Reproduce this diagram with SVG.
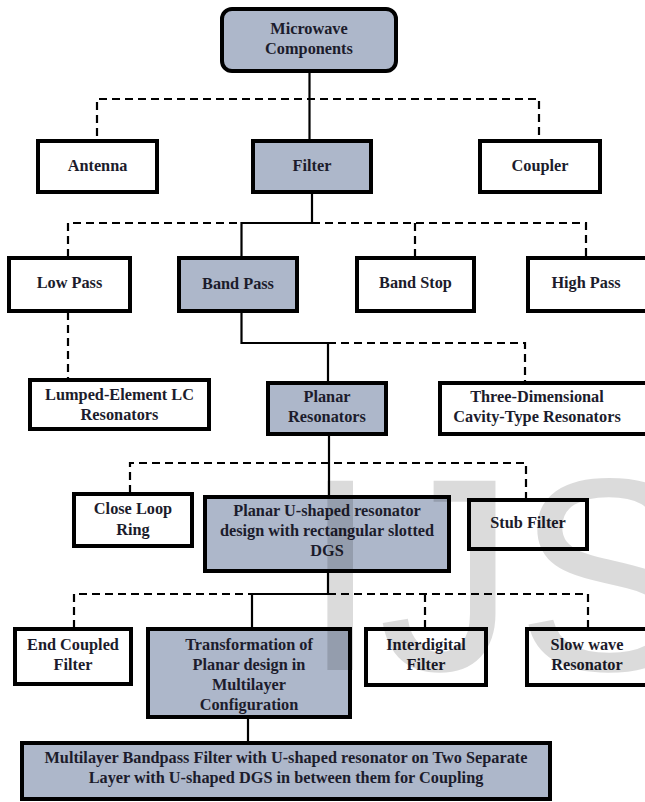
<svg xmlns="http://www.w3.org/2000/svg" width="645" height="802" viewBox="0 0 645 802">
<style>
.b{fill:#ffffff;stroke:#000;stroke-width:4}
.g{fill:#adb7ca;stroke:#000;stroke-width:4}
.s{fill:none;stroke:#000;stroke-width:2.2}
.d{fill:none;stroke:#000;stroke-width:2.2;stroke-dasharray:8 5}
text{font-family:"Liberation Serif","Times New Roman",serif;font-weight:bold;font-size:16.3px;fill:#1c1c2c;text-anchor:middle}
.wm{font-family:"Liberation Sans",Arial,sans-serif;font-weight:normal;font-size:275px;fill:#000;fill-opacity:0.14;text-anchor:start}
</style>
<rect width="645" height="802" fill="#fff"/>
<g id="connectors">
<path class="s" d="M309.5 71V140"/>
<path class="d" d="M97 136V99H539V136"/>
<path class="s" d="M312 193V223H241.5V257"/>
<path class="d" d="M68 257V223H241.5M312 223H586V257M415 223V257"/>
<path class="d" d="M68 312V380"/>
<path class="s" d="M241.5 312V343H328V382"/>
<path class="d" d="M328 343H525V382"/>
<path class="s" d="M329 435V497"/>
<path class="d" d="M130 493V463H526V499"/>
<path class="s" d="M328 572V594H252V628"/>
<path class="d" d="M74 628V594H252M328 594H588V628M425 594V628"/>
<path class="s" d="M248 718V742"/>
</g>
<g id="microwave"><rect class="g" x="222" y="9" width="174" height="62" rx="10"/><text x="309" y="34">Microwave</text><text x="309" y="54">Components</text></g>
<g id="antenna"><rect class="b" x="38" y="141" width="119" height="51"/><text x="97.5" y="171">Antenna</text></g>
<g id="filter"><rect class="g" x="253" y="141" width="118" height="51"/><text x="312" y="171">Filter</text></g>
<g id="coupler"><rect class="b" x="480" y="141" width="120" height="51"/><text x="540" y="171">Coupler</text></g>
<g id="lowpass"><rect class="b" x="9" y="258" width="121" height="53"/><text x="69.5" y="288">Low Pass</text></g>
<g id="bandpass"><rect class="g" x="179" y="258" width="118" height="53"/><text x="238" y="289">Band Pass</text></g>
<g id="bandstop"><rect class="b" x="357" y="258" width="117" height="53"/><text x="415.5" y="288">Band Stop</text></g>
<g id="highpass"><rect class="b" x="528" y="258" width="120" height="53"/><text x="586" y="288">High Pass</text></g>
<g id="lumped"><rect class="b" x="30" y="380" width="179" height="49"/><text x="119.5" y="400">Lumped-Element LC</text><text x="119.5" y="420">Resonators</text></g>
<g id="planar"><rect class="g" x="268" y="383" width="118" height="51"/><text x="327" y="402">Planar</text><text x="327" y="422">Resonators</text></g>
<g id="threed"><rect class="b" x="440" y="383" width="208" height="51"/><text x="537" y="402">Three-Dimensional</text><text x="537" y="422">Cavity-Type Resonators</text></g>
<g id="closeloop"><rect class="b" x="74" y="494" width="118" height="52"/><text x="133" y="514">Close Loop</text><text x="133" y="535">Ring</text></g>
<g id="planaru"><rect class="g" x="205" y="497" width="244" height="74"/><text x="327" y="516">Planar U-shaped resonator</text><text x="327" y="536">design with rectangular slotted</text><text x="327" y="556">DGS</text></g>
<g id="stub"><rect class="b" x="469" y="500" width="118" height="49"/><text x="528" y="528">Stub Filter</text></g>
<g id="endcoupled"><rect class="b" x="15" y="629" width="116" height="55"/><text x="73" y="650">End Coupled</text><text x="73" y="670">Filter</text></g>
<g id="transformation"><rect class="g" x="148" y="629" width="202" height="88"/><text x="249" y="650">Transformation of</text><text x="249" y="670">Planar design in</text><text x="249" y="690">Multilayer</text><text x="249" y="710">Configuration</text></g>
<g id="interdigital"><rect class="b" x="366" y="629" width="120" height="56"/><text x="426" y="650">Interdigital</text><text x="426" y="670">Filter</text></g>
<g id="slowwave"><rect class="b" x="527" y="629" width="121" height="56"/><text x="587" y="650">Slow wave</text><text x="587" y="670">Resonator</text></g>
<g id="multilayer"><rect class="g" x="22" y="743" width="528" height="56"/><text x="286" y="763">Multilayer Bandpass Filter with U-shaped resonator on Two Separate</text><text x="286" y="783">Layer with U-shaped DGS in between them for Coupling</text></g>
<text class="wm" x="302" y="670">IJS</text>
</svg>
